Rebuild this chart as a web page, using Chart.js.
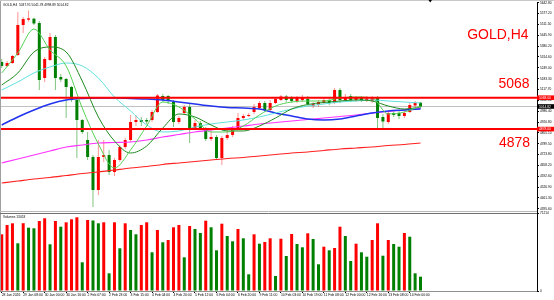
<!DOCTYPE html>
<html><head><meta charset="utf-8">
<script src="https://cdn.jsdelivr.net/npm/chart.js@4.4.1/dist/chart.umd.min.js"></script>
<style>html,body{margin:0;padding:0;background:#fff;}canvas{display:block;}</style>
</head><body>
<canvas id="c" width="554" height="300"></canvas>
<script>
// ---------- DATA ----------
const opens = [5284.0,5259.8,5278.0,5326.4,5507.9,5540.0,5546.0,5520.0,5187.2,5296.1,
  5435.3,5193.3,5181.2,5132.8,5054.1,4933.1,4812.1,4709.3,4509.6,4709.3,
  4721.4,4618.5,4691.1,4769.8,4812.1,4921.0,4933.1,4933.1,4933.1,4981.5,
  5078.3,5078.3,5042.0,4921.0,4975.5,5011.8,4884.7,4915.0,4878.7,4818.2,
  4830.3,4703.2,4824.2,4842.4,4884.7,4945.2,4957.3,4981.5,5005.7,5036.0,
  4993.6,5036.0,5054.1,5075.3,5066.2,5048.1,5054.1,5060.2,5017.8,5023.9,
  5036.0,5054.1,5036.0,5114.6,5054.1,5078.3,5054.1,5066.2,5054.1,5048.1,
  5066.2,4951.3,4921.0,4975.5,4975.5,4957.3,4981.5,5020.8,5037.91];
const highs = [5302.2,5290.1,5326.4,5586.5,5556.3,5595.4,5552.0,5532.1,5314.3,5459.5,
  5447.4,5211.4,5187.2,5138.8,5060.2,4939.2,4860.5,4721.4,4812.1,4812.1,
  4751.6,4703.2,4781.9,4824.2,4963.4,4963.4,4951.3,4945.2,4993.6,5090.4,
  5090.4,5084.4,5054.1,4957.3,5023.9,5036.0,4933.1,4927.1,4890.8,4884.7,
  4842.4,4836.3,4872.6,4896.8,4975.5,4969.4,4975.5,5029.9,5048.1,5048.1,
  5054.1,5072.3,5084.4,5084.4,5078.3,5078.3,5084.4,5078.3,5042.0,5054.1,
  5066.2,5066.2,5126.7,5126.7,5090.4,5090.4,5078.3,5078.3,5078.3,5078.3,
  5078.3,4969.4,4987.6,4993.6,4987.6,4987.6,5036.0,5048.1,5041.78];
const lows = [5247.7,5253.8,5271.9,5320.3,5459.5,5528.0,5507.9,5114.6,5163.0,5290.1,
  5114.6,5163.0,4945.2,5042.0,4703.2,4848.4,4691.1,4406.8,4479.4,4679.0,
  4600.4,4594.3,4679.0,4757.7,4800.0,4896.8,4896.8,4908.9,4921.0,4975.5,
  5042.0,5029.9,4890.8,4908.9,4963.4,4794.0,4872.6,4878.7,4806.1,4806.1,
  4691.1,4660.9,4812.1,4830.3,4872.6,4933.1,4951.3,4969.4,4993.6,4981.5,
  4981.5,5029.9,5048.1,5042.0,5036.0,5036.0,5042.0,5017.8,5005.7,5011.8,
  5029.9,5023.9,5029.9,5036.0,5042.0,5042.0,5042.0,5042.0,5042.0,5036.0,
  4884.7,4884.7,4908.9,4951.3,4939.2,4945.2,4975.5,5011.8,4998.89];
const closes = [5259.8,5278.0,5320.3,5507.9,5544.2,5548.0,5516.9,5175.1,5302.2,5435.3,
  5187.2,5178.1,5132.8,5054.1,4933.1,4860.5,4709.3,4509.6,4709.3,4721.4,
  4618.5,4691.1,4769.8,4812.1,4921.0,4933.1,4921.0,4924.0,4981.5,5081.3,
  5054.1,5048.1,4921.0,4945.2,5011.8,4884.7,4915.0,4884.7,4818.2,4830.3,
  4703.2,4824.2,4842.4,4884.7,4945.2,4957.3,4963.4,5011.8,5036.0,4993.6,
  5036.0,5060.2,5075.3,5054.1,5048.1,5066.2,5072.3,5029.9,5029.9,5042.0,
  5054.1,5036.0,5114.6,5054.1,5072.3,5054.1,5066.2,5054.1,5063.2,5066.2,
  4945.2,4924.0,4975.5,4963.4,4957.3,4975.5,5023.9,5036.0,5014.82];
const volumes = [51770,60260,61810,43550,61900,57790,57250,63910,66380,42640,
  63910,58710,62720,65460,67290,26200,64820,64370,61810,62720,
  16160,62720,38990,61810,55690,51770,60260,62720,35330,55690,
  44460,46560,58160,60260,30770,59350,56610,52950,64180,58160,
  37160,61450,50220,45380,56610,48120,15250,51770,43190,44740,
  48120,13700,47750,31960,52040,42910,39900,52680,47480,24380,
  40450,37160,39260,58710,50220,27390,43190,35330,31320,46560,
  61810,32230,46560,42910,40450,52950,49580,16160,13053];

// moving averages, read at every 3rd bar
const maBars = [0,3,6,9,12,15,18,21,24,27,30,33,36,39,42,45,48,51,54,57,60,63,66,69,72,75,78];
const maFast = [5217.5,5338.5,5483.7,5356.6,5259.8,5005.7,4787.9,4642.7,4751.6,4896.8,5042.0,5011.8,4939.2,4860.5,4860.5,4896.8,4963.4,5017.8,5042.0,5048.1,5048.1,5066.2,5072.3,5066.2,4969.4,4981.5,5017.8];
const maMid = [5144.9,5217.5,5344.5,5374.8,5344.5,5169.0,4951.3,4806.1,4733.4,4775.8,4884.7,4969.4,4951.3,4902.9,4866.6,4866.6,4896.8,4945.2,4999.7,5026.9,5039.0,5048.1,5054.1,5048.1,5017.8,4999.7,5011.8];
const maSlow = [5114.6,5163.0,5217.5,5253.8,5277.9,5259.8,5187.2,5072.3,4987.6,4902.9,4860.5,4866.6,4890.8,4908.9,4921.0,4933.1,4951.3,4975.5,4999.7,5017.8,5029.9,5042.0,5048.1,5054.1,5048.1,5042.0,5036.0];
const ma50 = [4902.9,4951.3,4993.6,5029.9,5054.1,5063.2,5066.2,5066.2,5063.2,5060.2,5054.1,5042.0,5029.9,5017.8,5008.7,5005.7,4999.7,4975.5,4957.3,4939.2,4933.1,4939.2,4957.3,4975.5,4987.6,4993.6,4999.7];
const ma100 = [4673.0,4697.2,4721.4,4745.6,4769.8,4781.9,4794.0,4797.0,4800.0,4812.1,4830.3,4845.4,4860.5,4872.6,4884.7,4896.8,4908.9,4918.0,4927.1,4936.1,4945.2,4954.3,4963.4,4975.5,4984.5,4993.6,5002.7];
const ma200 = [4552.0,4564.1,4576.2,4585.2,4597.3,4609.4,4618.5,4630.6,4642.7,4651.8,4663.9,4673.0,4682.0,4691.1,4700.2,4706.3,4715.3,4724.4,4733.4,4739.5,4748.6,4757.7,4763.7,4769.8,4778.8,4784.9,4794.0];

const levelHigh = 5068;
const levelLow = 4878;
const timeLabels = ["28 Jan 2026","29 Jan 08:00","30 Jan 00:00","30 Jan 16:00","2 Feb 07:00","2 Feb 23:00","3 Feb 15:00","4 Feb 04:00","4 Feb 20:00","5 Feb 12:00","6 Feb 04:00","6 Feb 20:00","9 Feb 11:00","10 Feb 03:00","10 Feb 19:00","11 Feb 08:00","12 Feb 00:00","12 Feb 16:00","13 Feb 08:00","14 Feb 00:00"];
const timeLabelBars = [0,4,8,12,16,20,24,28,32,36,40,44,48,52,56,60,64,68,72,76];
const priceTicks = [5642.8,5577.2,5511.5,5445.9,5380.2,5314.6,5249.0,5183.3,5117.7,5052.0,4986.4,4920.8,4855.1,4789.5,4723.8,4658.2,4592.6,4526.9,4461.3,4395.6];
const volTicks = [0,71214];
const symbolTitle = "GOLD,H4";
const headerText = "GOLD,H4  5037.91 5041.78 4998.89 5014.82";
const volumeTitle = "Volumes 13053";

// ---------- CHART ----------
const FONT = '"Liberation Sans", Arial, sans-serif';
const UP = '#ff0000', DN = '#008000';
const n = closes.length;
const idx = closes.map((_, i) => i);
const isUp = i => closes[i] >= opens[i];
const xMin = -0.32, xMax = 99.7;
const lastClose = closes[n - 1];

const maDs = (vals, color, w) => ({
  type: 'line', data: maBars.map((b, k) => ({x: b, y: vals[k]})),
  borderColor: color, borderWidth: w, pointRadius: 0, cubicInterpolationMode: 'monotone',
  xAxisID: 'x', yAxisID: 'y', order: 1
});
const hline = (v, color, w, order) => ({
  type: 'line', data: [{x: xMin, y: v}, {x: xMax, y: v}],
  borderColor: color, borderWidth: w, pointRadius: 0, xAxisID: 'x', yAxisID: 'y', order
});

const fixW = w => s => { s.width = w; s.paddingTop = 0; s.paddingBottom = 0; };

const overlay = {
  id: 'overlay',
  afterDraw(chart) {
    const {ctx, scales} = chart;
    const yS = scales.y, vS = scales.yv;
    const R = yS.left;
    ctx.save();
    // frames
    ctx.lineWidth = 1;
    ctx.strokeStyle = '#c8c8c8';
    ctx.beginPath(); ctx.moveTo(0, 0.5); ctx.lineTo(554, 0.5); ctx.stroke();
    ctx.strokeStyle = '#a0a0a0';
    ctx.beginPath(); ctx.moveTo(0.5, 1); ctx.lineTo(0.5, vS.bottom); ctx.stroke();
    ctx.strokeStyle = '#b8b8b8';
    ctx.beginPath(); ctx.moveTo(0, yS.bottom - 1.5); ctx.lineTo(R, yS.bottom - 1.5); ctx.stroke();
    ctx.strokeStyle = '#707070';
    ctx.beginPath(); ctx.moveTo(0, yS.bottom + 0.5); ctx.lineTo(R, yS.bottom + 0.5); ctx.stroke();

    // highlighted price labels on the axis
    const tag = (val, bg, txt) => {
      const py = yS.getPixelForValue(val);
      ctx.fillStyle = bg;
      ctx.fillRect(R, py - 2.3, 554 - R, 4.6);
      ctx.fillStyle = '#fff';
      ctx.font = '3.3px ' + FONT;
      ctx.textAlign = 'left'; ctx.textBaseline = 'middle';
      ctx.fillText(txt, R + 2, py + 0.2);
    };
    tag(levelHigh, '#ff0000', levelHigh.toFixed(2));
    tag(levelLow, '#ff0000', levelLow.toFixed(2));
    tag(lastClose, '#000000', lastClose.toFixed(2));

    // big red annotations
    const big = (text, xr, base) => {
      ctx.save();
      ctx.font = '15.5px ' + FONT;
      ctx.fillStyle = '#ff0000';
      ctx.textAlign = 'right'; ctx.textBaseline = 'alphabetic';
      ctx.translate(xr, base); ctx.scale(0.9, 1);
      ctx.fillText(text, 0, 0);
      ctx.restore();
    };
    big(symbolTitle, 528.5, 38.5);
    big(String(levelHigh), 529.5, 88.3);
    big(String(levelLow), 530, 146.8);

    // tiny header texts
    ctx.fillStyle = '#000';
    ctx.font = '3.6px ' + FONT;
    ctx.textAlign = 'left'; ctx.textBaseline = 'alphabetic';
    ctx.save(); ctx.translate(3, 6.3); ctx.scale(0.9, 1); ctx.fillText(headerText, 0, 0); ctx.restore();
    ctx.save(); ctx.translate(3, 217.5); ctx.scale(0.9, 1); ctx.fillText(volumeTitle, 0, 0); ctx.restore();

    // chart shift marker
    ctx.beginPath(); ctx.moveTo(428.5, 0); ctx.lineTo(432, 0); ctx.lineTo(430.2, 2.5); ctx.closePath(); ctx.fill();
    ctx.restore();
  }
};

new Chart(document.getElementById('c'), {
  type: 'bar',
  data: {
    datasets: [
      hline(levelHigh, '#ff0000', 2, 0),
      hline(levelLow, '#ff0000', 2, 0),
      maDs(maFast, '#55d055', 1),
      maDs(maMid, '#1f8a1f', 1),
      maDs(maSlow, '#5fe0dc', 1),
      maDs(ma50, '#2233ee', 1.5),
      maDs(ma100, '#ff33ff', 1.2),
      maDs(ma200, '#ff2020', 1.2),
      {
        type: 'bar', data: idx.map(i => ({x: i, y: [Math.min(opens[i], closes[i]), Math.max(opens[i], closes[i])]})),
        backgroundColor: c => isUp(c.dataIndex) ? UP : DN,
        barThickness: 3, minBarLength: 1, grouped: false, inflateAmount: 0, borderWidth: 0,
        xAxisID: 'x', yAxisID: 'y', order: 2
      },
      {
        type: 'bar', data: idx.map(i => ({x: i, y: [lows[i], highs[i]]})),
        backgroundColor: c => isUp(c.dataIndex) ? 'rgba(255,60,60,0.55)' : 'rgba(0,140,0,0.5)',
        barThickness: 1, grouped: false, inflateAmount: 0, borderWidth: 0,
        xAxisID: 'x', yAxisID: 'y', order: 3
      },
      hline(lastClose, '#c0c0c0', 1, 4),
      {
        type: 'bar', data: idx.map(i => ({x: i, y: volumes[i]})),
        backgroundColor: c => (c.dataIndex === 0 || volumes[c.dataIndex] > volumes[c.dataIndex - 1]) ? UP : DN,
        barThickness: 3, grouped: false, inflateAmount: 0, borderWidth: 0,
        xAxisID: 'x', yAxisID: 'yv', order: 0
      }
    ]
  },
  options: {
    responsive: false, animation: false, devicePixelRatio: 1,
    layout: {padding: {top: 2, left: 0, right: 0, bottom: 0}},
    plugins: {legend: {display: false}, tooltip: {enabled: false}},
    scales: {
      x: {
        type: 'linear', min: xMin, max: xMax, offset: false, position: 'bottom',
        afterBuildTicks: s => { s.ticks = timeLabelBars.map(v => ({value: v})); },
        afterFit: s => { s.height = 9; s.paddingLeft = 0; s.paddingRight = 0; },
        ticks: {autoSkip: false, maxRotation: 0, minRotation: 0, align: 'start', padding: 0.5,
          font: {size: 3.4, family: FONT}, color: '#000', callback: (v, k) => timeLabels[k]},
        grid: {display: true, drawOnChartArea: false, drawTicks: true, tickLength: 2, color: '#000', offset: false},
        border: {display: true, color: '#909090'}
      },
      y: {
        type: 'linear', position: 'right', stack: 'p', stackWeight: 211,
        min: 4370.4, max: 5647.0, beginAtZero: false,
        afterBuildTicks: s => { s.ticks = priceTicks.map(v => ({value: v})); },
        afterFit: fixW(17),
        ticks: {autoSkip: false, font: {size: 3.2, family: FONT}, color: '#000', padding: 1, callback: v => Number(v).toFixed(2)},
        grid: {drawOnChartArea: false, drawTicks: true, tickLength: 2, color: '#000'},
        border: {display: true, color: '#000'}
      },
      yv: {
        type: 'linear', position: 'right', stack: 'p', stackWeight: 78,
        min: 0, max: 71214,
        afterBuildTicks: s => { s.ticks = volTicks.map(v => ({value: v})); },
        afterFit: fixW(17),
        ticks: {autoSkip: false, font: {size: 3.2, family: FONT}, color: '#000', padding: 1, callback: v => String(v)},
        grid: {drawOnChartArea: false, drawTicks: true, tickLength: 2, color: '#000'},
        border: {display: true, color: '#000'}
      }
    }
  },
  plugins: [overlay]
});
</script>
</body></html>
